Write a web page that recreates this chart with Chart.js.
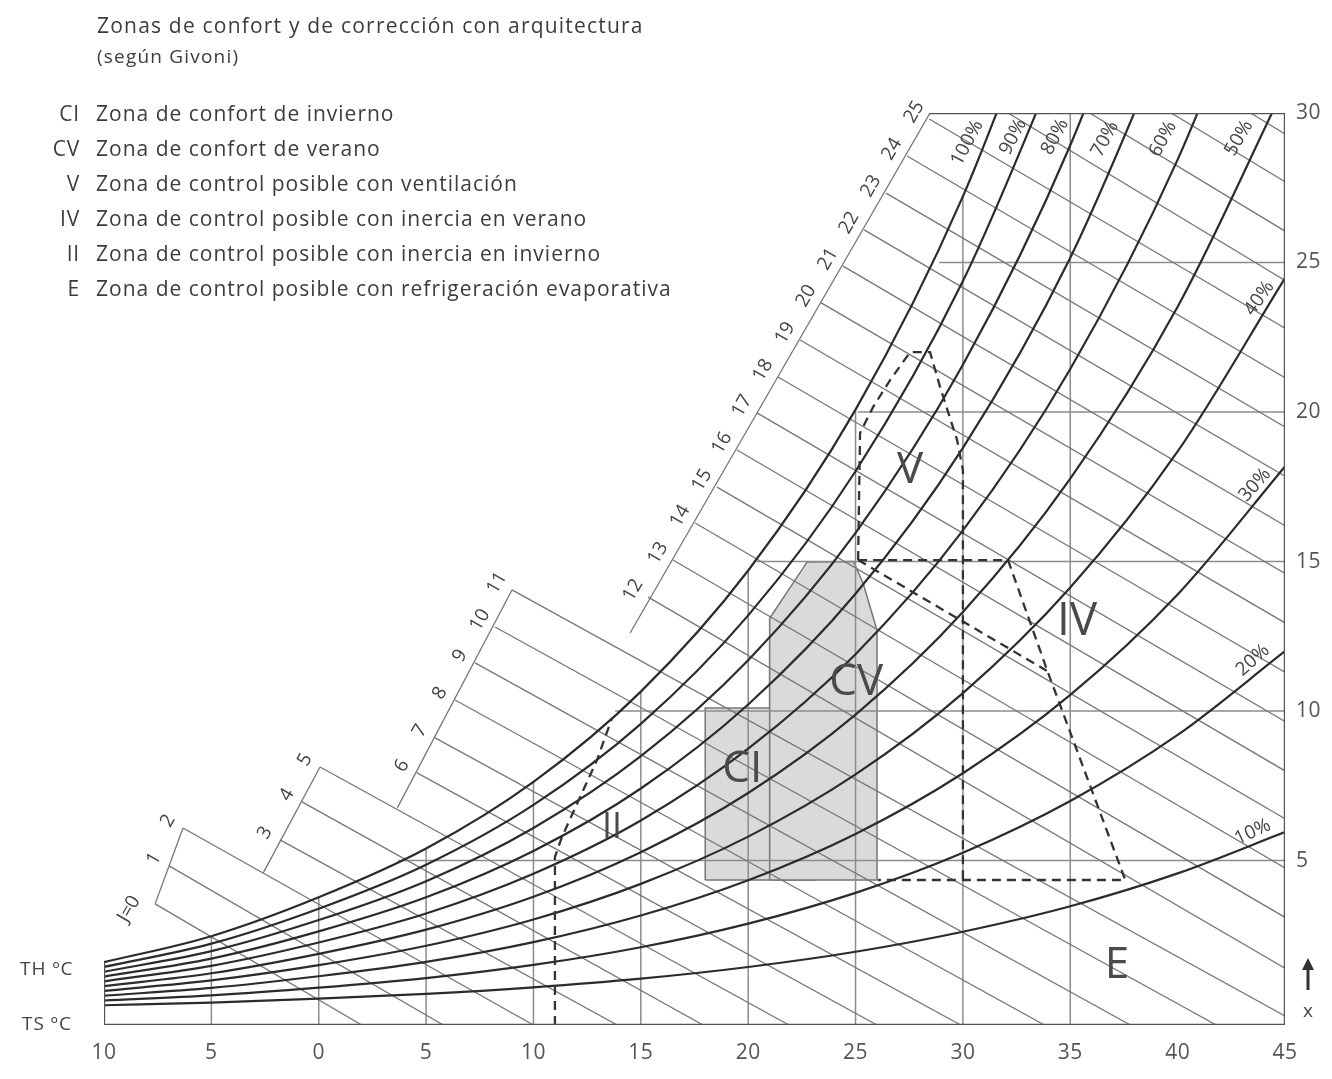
<!DOCTYPE html>
<html>
<head>
<meta charset="utf-8">
<script src="https://cdn.jsdelivr.net/npm/chart.js@4.4.1/dist/chart.umd.min.js"></script>
<style>
  html, body { margin: 0; padding: 0; background: #fff; }
  canvas { display: block; }
</style>
</head>
<body>
<canvas id="givoni" width="1332" height="1079"></canvas>
<script>
// dry-bulb temperature (°C) and humidity ratio (g/kg)
const temps = [-10, -5, 0, 5, 10, 15, 20, 25, 30, 35, 40, 45];
const xTickLabels = ['10', '5', '0', '5', '10', '15', '20', '25', '30', '35', '40', '45'];
const yTicks = [5, 10, 15, 20, 25, 30];

const rh10 = [0.16, 0.25, 0.38, 0.54, 0.76, 1.05, 1.44, 1.95, 2.62, 3.47, 4.57, 5.95];
const rh20 = [0.32, 0.49, 0.75, 1.07, 1.51, 2.10, 2.89, 3.92, 5.26, 6.99, 9.20, 12.0];
const rh30 = [0.48, 0.74, 1.13, 1.61, 2.27, 3.16, 4.34, 5.89, 7.92, 10.54, 13.90, 18.18];
const rh40 = [0.64, 0.99, 1.50, 2.15, 3.03, 4.22, 5.80, 7.88, 10.60, 14.13, 18.68, 24.48];
const rh50 = [0.80, 1.23, 1.88, 2.69, 3.79, 5.28, 7.26, 9.88, 13.31, 17.77, 23.52, 30.91];
const rh60 = [0.96, 1.48, 2.26, 3.23, 4.56, 6.34, 8.74, 11.90, 16.04, 21.44, 28.44, 37.46];
const rh70 = [1.12, 1.72, 2.63, 3.77, 5.32, 7.41, 10.22, 13.92, 18.80, 25.16, 33.44];
const rh80 = [1.28, 1.97, 3.01, 4.31, 6.09, 8.49, 11.70, 15.96, 21.58, 28.92, 38.5];
const rh90 = [1.44, 2.22, 3.39, 4.86, 6.86, 9.57, 13.20, 18.02, 24.38, 32.73];
const rh100 = [1.60, 2.47, 3.77, 5.40, 7.63, 10.65, 14.70, 20.08, 27.21, 36.58];

// enthalpy lines J (kcal/kg): start on the stepped scale, end on bottom/right edge
const jLabels = ['J=0', '1', '2', '3', '4', '5', '6', '7', '8', '9', '10', '11', '12', '13',
  '14', '15', '16', '17', '18', '19', '20', '21', '22', '23', '24', '25'];
const jStartT = [-7.62, -6.97, -6.32, -1.80, -0.78, 0.06, 4.58, 5.42, 6.35, 7.28, 8.21, 9.00, 15.34,
  16.50, 17.53, 18.55, 19.48, 20.41, 21.39, 22.42, 23.40, 24.42, 25.40, 26.42, 27.40, 28.43, 32.1, 35.9, 39.7, 43.4];
const jStartW = [3.55, 4.82, 6.09, 5.69, 6.96, 8.13, 7.93, 9.10, 10.37, 11.61, 12.81, 14.05, 13.81,
  15.05, 16.29, 17.49, 18.73, 19.97, 21.17, 22.41, 23.65, 24.88, 26.09, 27.32, 28.56, 29.80, 30, 30, 30, 30];
const jEndT = [2.0, 5.8, 10.0, 13.9, 17.9, 21.9, 26.0, 29.9, 33.8, 37.8, 41.8, 45, 45,
  45, 45, 45, 45, 45, 45, 45, 45, 45, 45, 45, 45, 45, 45, 45, 45, 45];
const jEndW = [-0.5, -0.5, -0.5, -0.5, -0.5, -0.5, -0.5, -0.5, -0.5, -0.5, -0.5, -0.2, 1.4,
  3.1, 4.75, 6.4, 8.0, 9.65, 11.3, 12.95, 14.6, 16.2, 17.85, 19.5, 21.15, 22.8, 24.4, 26.05, 27.7, 29.3];

// stepped enthalpy scale segments
const scaleT = [[-7.62, -6.32], [-2.59, 0.06], [3.66, 9.00], [14.5, 28.47]];
const scaleW = [[3.55, 6.09], [4.58, 8.13], [6.76, 14.05], [12.61, 30.0]];

// grid
const gridT = [-5, 0, 5, 10, 15, 20, 25, 30, 35, 40];
const gridW = [5, 10, 15, 20, 25];
const gridWStartT = [3.7, 13.8, 20.4, 25.1, 28.9];

// Givoni zones
const iiT = [11, 11, 11.33, 12.17, 12.96, 13.66];
const iiW = [-0.5, 5.12, 5.79, 7.12, 8.36, 9.77];
const ciT = [18, 18, 21, 21, 23.07, 23.07, 18];
const ciW = [4.35, 10.1, 10.1, 12.37, 12.37, 4.35, 4.35];
const cvT = [21, 21, 22.74, 24.9, 25.35, 26.0, 26.0, 21];
const cvW = [4.35, 13.1, 14.98, 15.0, 14.28, 12.7, 4.35, 4.35];
const vT = [25.12, 25.21, 25.82, 26.61, 27.54, 28.47, 28.94, 29.73, 30.0, 30.0];
const vW = [15.05, 19.3, 20.17, 21.07, 22.0, 22.0, 20.83, 19.06, 18.06, 4.35];
const ivT = [25.12, 32.1, 33.97, 37.56, 26.05];
const ivW = [15.05, 15.05, 11.27, 4.35, 4.35];
const eT = [25.12, 33.9];
const eW = [15.05, 11.35];

const pts = (xs, ys) => xs.map((x, i) => ({ x, y: ys[i] }));
const line = (data, o) => Object.assign({
  data, showLine: true, pointRadius: 0, borderWidth: 1.3, borderColor: '#6f6f6f',
  fill: false, tension: 0, order: 3
}, o);

const datasets = [];

// shaded comfort zones (bottom layer)
datasets.push(line(pts(ciT, ciW), { fill: 'shape', backgroundColor: '#dadada', borderColor: '#777', borderWidth: 1.5, order: 9 }));
datasets.push(line(pts(cvT, cvW), { fill: 'shape', backgroundColor: '#dadada', borderColor: '#777', borderWidth: 1.5, order: 8 }));

// grid
gridT.forEach(t => {
  const top = Math.min(rh100[temps.indexOf(t)], 30);
  datasets.push(line(pts([t, t], [-0.5, top]), { borderColor: '#8c8c8c', borderWidth: 1.5, order: 7 }));
});
gridW.forEach((w, i) => {
  datasets.push(line(pts([gridWStartT[i], 45], [w, w]), { borderColor: '#8c8c8c', borderWidth: 1.5, order: 7 }));
});

// enthalpy lines and scale
jStartT.forEach((t, i) => {
  datasets.push(line(pts([t, jEndT[i]], [jStartW[i], jEndW[i]]), { borderColor: '#767676', borderWidth: 1.3, order: 6 }));
});
scaleT.forEach((s, i) => {
  datasets.push(line(pts(s, scaleW[i]), { borderColor: '#767676', borderWidth: 1.3, order: 6 }));
});

// relative humidity curves
[rh10, rh20, rh30, rh40, rh50, rh60, rh70, rh80, rh90, rh100].forEach(arr => {
  datasets.push(line(pts(temps.slice(0, arr.length), arr), {
    borderColor: '#2b2b2b', borderWidth: 2.2, cubicInterpolationMode: 'monotone', order: 4
  }));
});

// dashed zone limits
[[iiT, iiW], [vT, vW], [ivT, ivW], [eT, eW]].forEach(([t, w]) => {
  datasets.push(line(pts(t, w), { borderColor: '#333', borderWidth: 2.3, borderDash: [9, 6], order: 2 }));
});

// frame
datasets.push(line(pts([-10, -10, 45, 45, 28.43], [rh10[0] + 1.45, -0.5, -0.5, 30, 30]), { borderColor: '#555', borderWidth: 2.4, order: 1 }));

function txt(ctx, s, px, py, font, color, align, rot, spacing) {
  ctx.save();
  ctx.translate(px, py);
  if (rot) ctx.rotate(rot * Math.PI / 180);
  ctx.font = font;
  ctx.fillStyle = color;
  ctx.textAlign = align || 'left';
  ctx.textBaseline = 'middle';
  ctx.letterSpacing = (spacing || 0) + 'px';
  ctx.fillText(s, 0, 0);
  ctx.restore();
}

const rhLabels = [
  ['100%', 30.2, 29.0, -62], ['90%', 32.34, 29.2, -62], ['80%', 34.29, 29.2, -62],
  ['70%', 36.62, 29.13, -62], ['60%', 39.32, 29.13, -62], ['50%', 42.86, 29.16, -60],
  ['40%', 43.8, 23.8, -55], ['30%', 43.6, 17.56, -48], ['20%', 43.5, 11.7, -42], ['10%', 43.5, 5.95, -25]
];
const zoneLabels = [['II', 13.66, 6.09, 36], ['CI', 19.72, 8.03, 44], ['CV', 25.03, 10.94, 44],
  ['V', 27.54, 18.06, 44], ['IV', 35.32, 12.98, 46], ['E', 37.18, 1.5, 44]];
const legendKeys = ['CI', 'CV', 'V', 'IV', 'II', 'E'];
const legendTexts = ['Zona de confort de invierno', 'Zona de confort de verano',
  'Zona de control posible con ventilación', 'Zona de control posible con inercia en verano',
  'Zona de control posible con inercia en invierno', 'Zona de control posible con refrigeración evaporativa'];

const annotations = {
  id: 'annotations',
  afterDatasetsDraw(chart) {
    const { ctx, scales: { x, y } } = chart;
    const X = v => x.getPixelForValue(v), Y = v => y.getPixelForValue(v);
    const f = 'px "Open Sans", "DejaVu Sans", sans-serif';

    txt(ctx, 'Zonas de confort y de corrección con arquitectura', 97, 27, '21' + f, '#3c3c3c', 'left', 0, 1.2);
    txt(ctx, '(según Givoni)', 97, 58, '19' + f, '#3c3c3c', 'left', 0, 1.2);
    legendKeys.forEach((k, i) => {
      const yy = 115 + i * 35;
      txt(ctx, k, 80, yy, '21' + f, '#3c3c3c', 'right', 0, 0.8);
      txt(ctx, legendTexts[i], 96, yy, '21' + f, '#3c3c3c', 'left', 0, 1);
    });

    temps.forEach((t, i) => txt(ctx, xTickLabels[i], X(t), 1053, '21' + f, '#555', 'center', 0, 0.5));
    yTicks.forEach(v => txt(ctx, String(v), 1296, Y(v), '21' + f, '#555', 'left', 0, 0.5));
    txt(ctx, 'TH ºC', 20, 970, '19' + f, '#444', 'left', 0, 1);
    txt(ctx, 'TS ºC', 22, 1025, '19' + f, '#444', 'left', 0, 1);
    txt(ctx, 'x', 1308, 1012, '19' + f, '#444', 'center');
    // arrow
    ctx.save();
    ctx.strokeStyle = '#333'; ctx.fillStyle = '#333'; ctx.lineWidth = 3;
    ctx.beginPath(); ctx.moveTo(1308, 990); ctx.lineTo(1308, 966); ctx.stroke();
    ctx.beginPath(); ctx.moveTo(1302, 970); ctx.lineTo(1308, 958); ctx.lineTo(1314, 970); ctx.closePath(); ctx.fill();
    ctx.restore();

    rhLabels.forEach(([s, t, w, r]) => txt(ctx, s, X(t), Y(w), '19' + f, '#444', 'center', r));

    jLabels.forEach((s, i) => {
      const dx = i === 0 ? -26 : -15, dy = i === 0 ? 5 : -7;
      txt(ctx, s, X(jStartT[i]) + dx, Y(jStartW[i]) + dy, '19' + f, '#444', 'center', -60);
    });

    zoneLabels.forEach(([s, t, w, size]) => {
      txt(ctx, s, X(t), Y(w), size + 'px "Open Sans", sans-serif', '#4a4a4a', 'center');
    });
  }
};

new Chart(document.getElementById('givoni'), {
  type: 'scatter',
  data: { datasets },
  options: {
    responsive: false,
    animation: false,
    events: [],
    layout: { padding: { left: 104, right: 47, top: 113, bottom: 54 } },
    plugins: { legend: { display: false }, tooltip: { enabled: false } },
    scales: {
      x: { type: 'linear', min: -10, max: 45, display: false },
      y: { type: 'linear', min: -0.5, max: 30, display: false }
    }
  },
  plugins: [annotations]
});
</script>
</body>
</html>
